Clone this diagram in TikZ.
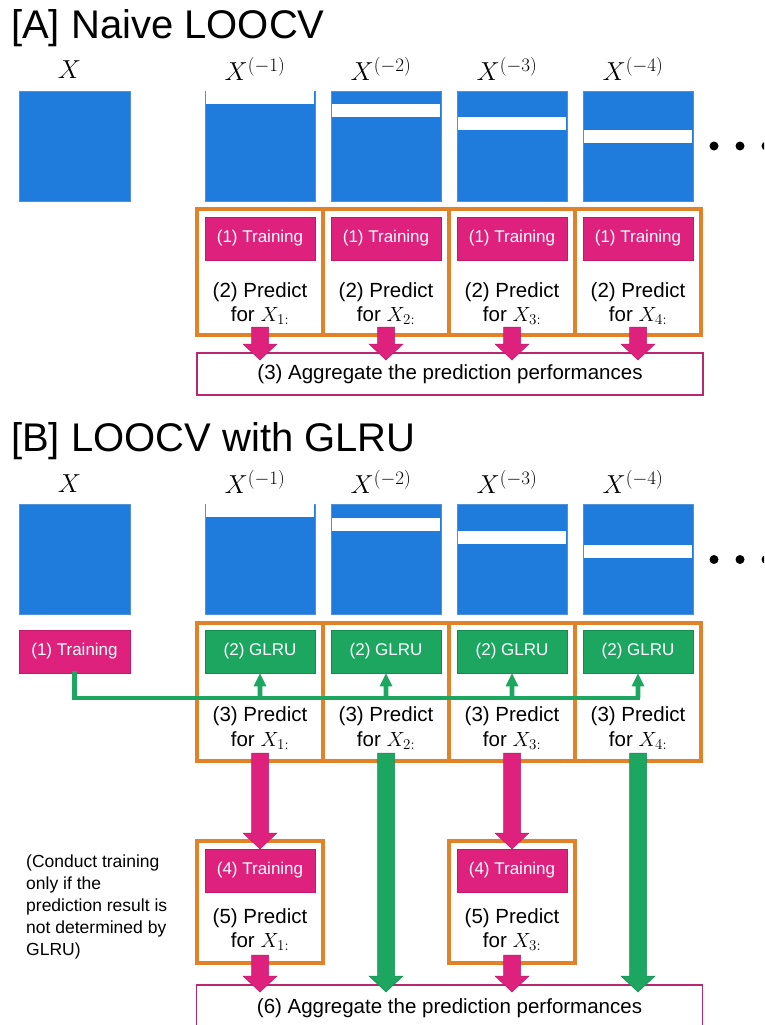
\documentclass[tikz,border=0pt]{standalone}
\usepackage{fix-cm}
\usepackage{fontspec}
\setmainfont{Liberation Sans}
\usetikzlibrary{calc}
\DeclareMathSizes{26}{26}{19}{14}
\DeclareMathSizes{20.5}{20.5}{15}{11}
\definecolor{xblue}{RGB}{32,124,220}
\definecolor{xblueline}{RGB}{80,145,215}
\definecolor{xmag}{RGB}{222,33,125}
\definecolor{xmagd}{RGB}{195,25,105}
\definecolor{xgreen}{RGB}{29,166,96}
\definecolor{xgreend}{RGB}{20,140,80}
\definecolor{xorange}{RGB}{226,130,40}
\definecolor{xagg}{RGB}{185,40,110}
% fat vertical arrow pointing down: style, start, tip
\newcommand\fatdown[3]{\path[#1] let \p1=#2, \p2=#3 in (\x1-8.5pt,\y1) -- (\x1+8.5pt,\y1) -- (\x1+8.5pt,\y2+16pt) -- (\x1+17pt,\y2+16pt) -- (\x1,\y2) -- (\x1-17pt,\y2+16pt) -- (\x1-8.5pt,\y2+16pt) -- cycle;}
% thin vertical arrow pointing up: style, start, tip
\newcommand\thinup[3]{\path[#1] let \p1=#2, \p2=#3 in (\x1-2.3pt,\y1) -- (\x1+2.3pt,\y1) -- (\x1+2.3pt,\y2-13pt) -- (\x1+6.5pt,\y2-13pt) -- (\x1,\y2) -- (\x1-6.5pt,\y2-13pt) -- (\x1-2.3pt,\y2-13pt) -- cycle;}
\begin{document}
\begin{tikzpicture}[x=1pt,y=-1pt,
  bluebox/.style={fill=xblue, draw=xblueline, line width=0.8pt, minimum width=110pt, minimum height=110pt, inner sep=0pt},
  lab/.style={font=\fontsize{26}{30}\selectfont, inner sep=0pt, anchor=base},
  ttl/.style={font=\fontsize{40}{48}\selectfont, inner sep=0pt, anchor=base west},
  colbox/.style={draw=xorange, line width=3.5pt, minimum width=126pt, inner sep=0pt},
  trbox/.style={fill=xmag, draw=xmagd, line width=0.6pt, text=white, font=\fontsize{17}{20}\selectfont, minimum width=110pt, minimum height=43pt, inner sep=0pt},
  glbox/.style={trbox, fill=xgreen, draw=xgreend},
  pred/.style={font=\fontsize{20.5}{24.5}\selectfont, align=center, inner sep=0pt},
  aggbox/.style={draw=xagg, line width=1.8pt, fill=white, minimum width=506pt, inner sep=0pt, font=\fontsize{20.5}{24}\selectfont},
  notetext/.style={font=\fontsize{17.5}{22}\selectfont, align=left, inner sep=0pt, anchor=north west},
  pinkarrow/.style={fill=xmag, draw=xmagd, line width=0.5pt},
  greenarrow/.style={fill=xgreen, draw=xgreend, line width=0.5pt},
  bus/.style={draw=xgreen, line width=4.6pt, line cap=rect},
  thinarrow/.style={fill=xgreen},
  dot/.style={fill=black}
]
\useasboundingbox (0,0) rectangle (764,1025);
\clip (0,0) rectangle (764,1025);

% ---------------- Part A ----------------
\node[ttl] (tA) at (11,38.5) {[A] Naive LOOCV};
\node[lab] (lA0) at (69.5,78.5) {$X$};
\node[bluebox, minimum width=111pt] (xA0) at (74.5,146) {};
\foreach \i/\x in {1/260,2/386,3/512,4/638}{
  \node[lab] (lA\i) at ({\x-5},80.5) {$X^{(-\i)}$};
  \node[bluebox] (xA\i) at (\x,146) {};
  \fill[white] ({\x-54.4},{91.4+13*(\i-1)}) rectangle ({\x+54.4},{91.4+13*(\i-1)+12.3});
  \node[colbox, minimum height=126pt] (oA\i) at (\x,272) {};
  \node[trbox] (trA\i) at (\x,238.5) {(1) Training};
  \node[pred] (pA\i) at (\x,303.5) {(2) Predict\\for $X_{\i:}$};
}
\fill[dot] (714,146) circle (4.5pt);
\fill[dot] (740,146) circle (4.5pt);
\fill[dot] (766,146) circle (4.5pt);
\node[aggbox, minimum height=42pt] (aggA) at (450,374) {(3) Aggregate the prediction performances};
\foreach \i/\x in {1/260,2/386,3/512,4/638}{
  \coordinate (sA\i) at (\x,327);
  \coordinate (eA\i) at (\x,360);
  \fatdown{pinkarrow}{(sA\i)}{(eA\i)}
}

% ---------------- Part B ----------------
\node[ttl] (tB) at (11,451) {[B] LOOCV with GLRU};
\node[lab] (lB0) at (69.5,492) {$X$};
\node[bluebox, minimum width=111pt] (xB0) at (74.5,559) {};
\foreach \i/\x in {1/260,2/386,3/512,4/638}{
  \node[lab] (lB\i) at ({\x-5},493.5) {$X^{(-\i)}$};
  \node[bluebox] (xB\i) at (\x,559) {};
  \fill[white] ({\x-54.4},{504.4+13.5*(\i-1)}) rectangle ({\x+54.4},{504.4+13.5*(\i-1)+12.8});
  \node[colbox, minimum height=138pt] (oB\i) at (\x,692) {};
  \node[pred] (pB\i) at (\x,728) {(3) Predict\\for $X_{\i:}$};
}
\fill[dot] (714,559.5) circle (4.5pt);
\fill[dot] (740,559.5) circle (4.5pt);
\fill[dot] (766,559.5) circle (4.5pt);

\node[trbox, minimum width=111pt] (trB0) at (74.5,651.5) {(1) Training};
\draw[bus] (trB0.south) |- (638,698) coordinate (busend);
\foreach \i/\x in {1/260,2/386,3/512,4/638}{
  \node[glbox] (glB\i) at (\x,651.5) {(2) GLRU};
  \coordinate (gs\i) at (\x,698);
  \thinup{thinarrow}{(gs\i)}{(glB\i.south)}
}

% second stage
\node[colbox, minimum height=122pt] (oC1) at (260,902) {};
\node[colbox, minimum height=122pt] (oC3) at (512,902) {};
\node[trbox] (trC1) at (260,870.5) {(4) Training};
\node[trbox] (trC3) at (512,870.5) {(4) Training};
\node[pred] (pC1) at (260,929.5) {(5) Predict\\for $X_{1:}$};
\node[pred] (pC3) at (512,929.5) {(5) Predict\\for $X_{3:}$};

\node[notetext] (note) at (26,855) {(Conduct training\\only if the\\prediction result is\\not determined by\\GLRU)};

\node[aggbox, minimum height=46pt] (aggB) at (449.5,1008) {(6) Aggregate the prediction performances};

% arrows stage 1 -> stage 2 / aggregate
\coordinate (sB1) at (260,753); \coordinate (eB1) at (260,849);
\coordinate (sB2) at (386,753); \coordinate (eB2) at (386,992);
\coordinate (sB3) at (512,753); \coordinate (eB3) at (512,849);
\coordinate (sB4) at (638,753); \coordinate (eB4) at (638,992);
\fatdown{pinkarrow}{(sB1)}{(eB1)}
\fatdown{greenarrow}{(sB2)}{(eB2)}
\fatdown{pinkarrow}{(sB3)}{(eB3)}
\fatdown{greenarrow}{(sB4)}{(eB4)}
% stage 2 -> aggregate
\coordinate (sC1) at (260,955); \coordinate (eC1) at (260,992);
\coordinate (sC3) at (512,955); \coordinate (eC3) at (512,992);
\fatdown{pinkarrow}{(sC1)}{(eC1)}
\fatdown{pinkarrow}{(sC3)}{(eC3)}
\end{tikzpicture}
\end{document}
